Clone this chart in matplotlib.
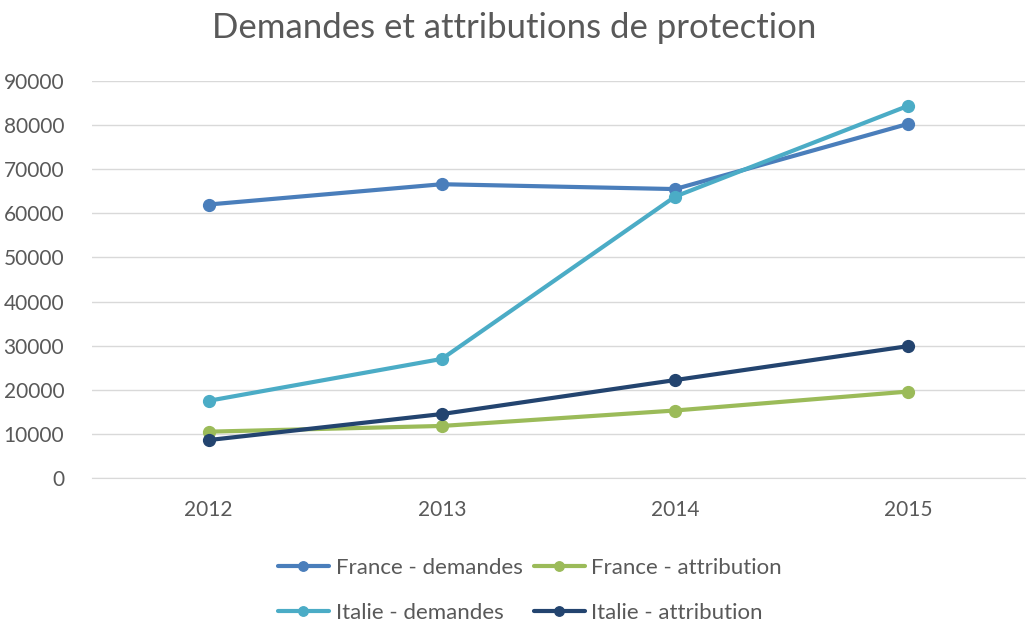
import numpy as np
import matplotlib.pyplot as plt

plt.rcParams['font.family'] = ['Lato', 'DejaVu Sans']

years = ['2012', '2013', '2014', '2015']
france_demandes = [62000, 66600, 65500, 80300]
france_attribution = [10500, 11800, 15300, 19600]
italie_demandes = [17500, 27000, 63800, 84400]
italie_attribution = [8600, 14500, 22200, 29900]

series = [
    ('France - demandes', france_demandes, '#4a7ebb'),
    ('France - attribution', france_attribution, '#9bbb59'),
    ('Italie - demandes', italie_demandes, '#4bacc6'),
    ('Italie - attribution', italie_attribution, '#23446f'),
]

fig = plt.figure(figsize=(10.29, 6.22), dpi=100)
ax = fig.add_axes([92 / 1029, 1 - 478 / 622, 933 / 1029, 397 / 622])

x = np.arange(len(years))
lines = {}
for label, values, color in series:
    ln, = ax.plot(x, values, color=color, lw=3, marker='o', markersize=8.5,
                  solid_capstyle='round', label=label)
    lines[label] = ln

ax.set_xlim(-0.5, 3.5)
ax.set_ylim(0, 90000)
ax.set_yticks(np.arange(0, 90001, 10000))
ax.set_xticks(x)
ax.set_xticklabels(years)
ax.grid(axis='y', color='#d9d9d9', lw=1)
ax.set_axisbelow(True)
for s in ['top', 'right', 'left']:
    ax.spines[s].set_visible(False)
ax.spines['bottom'].set_color('#d9d9d9')
ax.tick_params(axis='both', length=0, labelsize=15, labelcolor='#595959')
ax.tick_params(axis='y', pad=20)
ax.tick_params(axis='x', pad=16)

fig.suptitle('Demandes et attributions de protection', y=0.98,
             fontsize=25, color='#595959')

# legend filled column by column, so order it to read row by row
order = ['France - demandes', 'Italie - demandes',
         'France - attribution', 'Italie - attribution']
fig.legend([lines[k] for k in order], order, loc='lower center',
           bbox_to_anchor=(0.515, -0.033), ncol=2, frameon=False, fontsize=16,
           labelcolor='#595959', handlelength=2.3, handletextpad=0.3,
           columnspacing=0.5, labelspacing=1.1, markerscale=0.8)

fig.savefig('out.png', dpi=100)
